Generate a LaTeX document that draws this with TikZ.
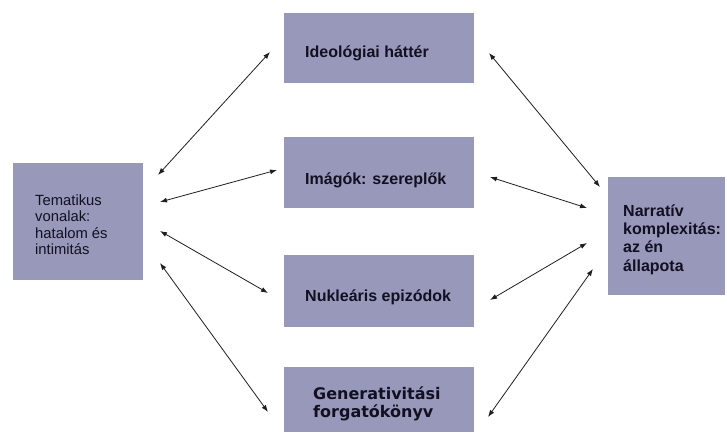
\documentclass[tikz,border=0pt]{standalone}
\usepackage{fontspec}
\setmainfont{Liberation Sans}
\newfontfamily\wideface{DejaVu Sans}
\usetikzlibrary{arrows.meta}

\definecolor{boxfill}{RGB}{152,152,186}
\definecolor{boxtext}{RGB}{16,16,34}
\definecolor{linkcol}{RGB}{30,30,30}

\tikzset{
  panel/.style={draw=none, fill=boxfill, inner sep=0pt, rectangle},
  caption/.style={text=boxtext, inner sep=0pt, anchor=west, align=left,
    font=\fontsize{16}{18.3}\selectfont\bfseries},
  smallcaption/.style={text=boxtext, inner sep=0pt, anchor=west, align=left,
    font=\fontsize{14.8}{16.5}\selectfont},
  link/.style={draw=linkcol, line width=0.8pt,
    {Latex[length=7pt,width=5pt]}-{Latex[length=7pt,width=5pt]}}
}

\begin{document}
\begin{tikzpicture}[x=1pt,y=-1pt]
  \useasboundingbox (0,0) rectangle (727,433);

  % boxes
  \node[panel, minimum width=130pt, minimum height=117pt] (tema) at (78,221.5) {};
  \node[panel, minimum width=190pt, minimum height=70pt] (ideo) at (379,48) {};
  \node[panel, minimum width=190pt, minimum height=71pt] (imago) at (379,172.5) {};
  \node[panel, minimum width=190pt, minimum height=72pt] (nukl) at (379,291) {};
  \node[panel, minimum width=190pt, minimum height=65pt] (gener) at (379,399.5) {};
  \node[panel, minimum width=117pt, minimum height=118pt] (narr) at (666.5,236) {};

  % captions
  \node[smallcaption] (tema-t) at (35,224.5) {Tematikus\\vonalak:\\hatalom és\\intimitás};
  \node[caption] (ideo-t) at (305,53.5) {Ideológiai háttér};
  \node[caption] (imago-t) at (305,180) {Imágók: szereplők};
  \node[caption] (nukl-t) at (305,297) {Nukleáris epizódok};
  \node[caption, font=\wideface\fontsize{16}{18}\selectfont\bfseries] (gener-t) at (313,404) {Generativitási\\forgatókönyv};
  \node[caption] (narr-t) at (623,239.5) {Narratív\\komplexitás:\\az én\\állapota};

  % connector end points
  \coordinate (t1) at (158,175);  \coordinate (i1) at (270,52);
  \coordinate (t2) at (160,202);  \coordinate (m1) at (277,170);
  \coordinate (t3) at (160,231);  \coordinate (n1) at (268,293);
  \coordinate (t4) at (160,263);  \coordinate (g1) at (268,412);
  \coordinate (i2) at (489,53);   \coordinate (r1) at (600,187);
  \coordinate (m2) at (490,177);  \coordinate (r2) at (587,208);
  \coordinate (n2) at (490,300);  \coordinate (r3) at (587,243);
  \coordinate (g2) at (488,417);  \coordinate (r4) at (593,269);

  % connectors
  \draw[link] (t1) -- (i1);
  \draw[link] (t2) -- (m1);
  \draw[link] (t3) -- (n1);
  \draw[link] (t4) -- (g1);
  \draw[link] (i2) -- (r1);
  \draw[link] (m2) -- (r2);
  \draw[link] (n2) -- (r3);
  \draw[link] (g2) -- (r4);
\end{tikzpicture}
\end{document}
